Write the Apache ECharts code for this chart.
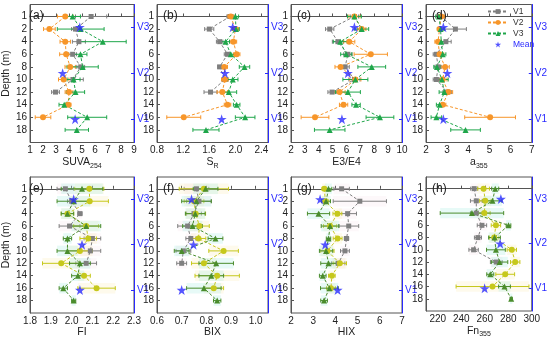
<!DOCTYPE html>
<html><head><meta charset="utf-8">
<script src="https://cdn.jsdelivr.net/npm/echarts@6/dist/echarts.min.js"></script>
<style>html,body{margin:0;padding:0;background:#fff}#c{width:550px;height:339px}</style>
</head><body><div id="c"></div>
<script>
// ---- categories / labels ----
const depthLabels = ['1','2','4','6','8','10','12','14','16','18'];
const meanPos = [0.85, 4.5, 8.15];
const siteLabels = ['V3','V2','V1'];

// ---- tick labels ----
const ticksA = [1,2,3,4,5,6,7,8,9];
const ticksB = [0.8,1.2,1.6,2.0,2.4];
const ticksC = [2,3,4,5,6,7,8,9,10];
const ticksD = [2,3,4,5,6,7];
const ticksE = [1.8,1.9,2.0,2.1,2.2,2.3];
const ticksF = [0.6,0.7,0.8,0.9,1.0];
const ticksG = [2,3,4,5,6,7];
const ticksH = [220,240,260,280,300];

// ---- (a) SUVA254 ----
const suvaV1 = [5.7, 4.5, 4.76, 4.28, 4.9, 4.3, 2.96];
const suvaV1Err = [1.2, 0.3, 0.5, 0.3, 0.3, 0.8, 0.3];
const suvaV2 = [3.71, 2.49, 3.71, 3.78, 4.09, 3.59, 4.0, 3.95, 2.0];
const suvaV2Err = [0.6, 0.45, 0.4, 0.5, 0.4, 0.4, 0.3, 0.2, 0.6];
const suvaV3 = [4.28, 4.9, 6.6, 4.88, 5.05, 4.35, 4.5, 3.63, 5.4, 4.6];
const suvaV3Err = [0.6, 1.8, 1.8, 0.5, 1.2, 0.5, 0.7, 0.4, 1.5, 0.9];
const suvaMean = [4.83, 3.51, 4.47];
// ---- (b) SR ----
const srV1 = [1.92, 1.60, 1.76, 1.88, 1.76, 1.84, 1.62];
const srV1Err = [0.05, 0.07, 0.05, 0.05, 0.03, 0.05, 0.1];
const srV2 = [1.93, 2.0, 1.97, 2.02, 1.83, 1.84, 1.80, 1.88, 1.21];
const srV2Err = [0.05, 0.05, 0.05, 0.05, 0.05, 0.05, 0.08, 0.05, 0.26];
const srV3 = [2.0, 2.01, 1.85, 1.93, 2.14, 1.96, 1.9, 2.02, 2.15, 1.55];
const srV3Err = [0.05, 0.05, 0.06, 0.07, 0.08, 0.08, 0.12, 0.05, 0.15, 0.2];
const srMean = [1.96, 1.84, 1.79];
// ---- (c) E3/E4 ----
const e34V1 = [6.57, 4.79, 5.38, 6.1, 5.9, 6.57, 4.96];
const e34V1Err = [0.3, 0.3, 0.4, 0.3, 0.3, 0.4, 0.3];
const e34V2 = [6.57, 7.1, 6.2, 7.75, 5.57, 6.64, 5.5, 5.79, 3.73];
const e34V2Err = [0.4, 0.3, 0.4, 1.2, 0.4, 0.4, 0.4, 0.3, 1.0];
const e34V3 = [6.57, 7.1, 5.55, 5.98, 7.82, 6.64, 6.1, 6.69, 8.41, 4.79];
const e34V3Err = [0.5, 0.5, 0.5, 0.4, 1.0, 0.9, 0.9, 0.3, 1.0, 1.1];
const e34Mean = [6.57, 6.1, 5.67];
// ---- (d) a355 ----
const a355V1 = [2.7, 3.39, 2.94, 2.49, 2.57, 2.49, 3.0];
const a355V1Err = [0.1, 0.52, 0.25, 0.15, 0.15, 0.15, 0.2];
const a355V2 = [2.72, 2.64, 2.57, 2.64, 2.9, 2.79, 3.06, 2.79, 5.03];
const a355V2Err = [0.15, 0.1, 0.15, 0.2, 0.2, 0.2, 0.2, 0.15, 1.2];
const a355V3 = [2.61, 2.69, 2.72, 2.79, 2.52, 2.75, 2.87, 2.64, 2.49, 3.87];
const a355V3Err = [0.15, 0.15, 0.15, 0.15, 0.15, 0.3, 0.25, 0.15, 0.25, 0.7];
const a355Mean = [2.82, 3.01, 2.82];
// ---- (e) FI ----
const fiV1 = [1.97, 2.0, 2.04, 1.99, 2.10, 2.09, 2.07];
const fiV1Err = [0.04, 0.02, 0.01, 0.05, 0.04, 0.05, 0.05];
const fiV2 = [2.085, 2.087, 1.98, 2.07, 2.08, 2.04, 1.95, 2.06, 2.12];
const fiV2Err = [0.07, 0.09, 0.03, 0.06, 0.04, 0.06, 0.09, 0.03, 0.09];
const fiV3 = [2.05, 2.01, 1.98, 2.07, 1.98, 1.98, 2.04, 2.03, 1.96, 2.01];
const fiV3Err = [0.1, 0.08, 0.03, 0.07, 0.02, 0.05, 0.05, 0.03, 0.02, 0.01];
const fiMean = [2.01, 2.05, 2.04];
// ---- (f) BIX ----
const bixV1 = [0.76, 0.77, 0.75, 0.724, 0.737, 0.707, 0.70];
const bixV1Err = [0.05, 0.05, 0.03, 0.04, 0.02, 0.03, 0.02];
const bixV2 = [0.79, 0.75, 0.757, 0.772, 0.768, 0.87, 0.79, 0.844, 0.83];
const bixV2Err = [0.1, 0.04, 0.04, 0.04, 0.03, 0.06, 0.05, 0.09, 0.04];
const bixV3 = [0.797, 0.76, 0.755, 0.744, 0.837, 0.70, 0.84, 0.82, 0.79, 0.844];
const bixV3Err = [0.05, 0.06, 0.04, 0.04, 0.03, 0.03, 0.07, 0.05, 0.07, 0.015];
const bixMean = [0.74, 0.748, 0.70];
// ---- (g) HIX ----
const hixV1 = [4.28, 5.1, 4.55, 4.6, 4.5, 4.43, 4.13];
const hixV1Err = [0.35, 1.2, 0.4, 0.45, 0.1, 0.2, 0.3];
const hixV2 = [3.5, 3.55, 4.09, 3.76, 4.1, 3.64, 4.2, 3.84, 3.8];
const hixV2Err = [0.1, 0.15, 0.2, 0.3, 0.2, 0.3, 0.3, 0.15, 0.2];
const hixV3 = [3.69, 3.58, 3.24, 3.76, 3.69, 3.58, 3.69, 3.43, 3.73, 3.49];
const hixV3Err = [0.15, 0.2, 0.5, 0.4, 0.1, 0.3, 0.35, 0.15, 0.4, 0.15];
const hixMean = [3.31, 3.54, 4.1];
// ---- (h) Fn355 ----
const fnV1 = [251, 252.8, 252.8, 257.6, 254.2, 250.5, 269.8];
const fnV1Err = [3, 5, 5, 4, 3, 4, 5];
const fnV2 = [259, 260.4, 259.6, 269.5, 268, 283, 285.9, 277.4, 266.6];
const fnV2Err = [5, 5, 5, 4, 4, 4, 4, 8, 31];
const fnV3 = [268.9, 266.6, 249.1, 280.2, 268.3, 269.5, 272.6, 264.7, 276.8, 282.5];
const fnV3Err = [3, 8, 27, 2, 5, 8, 7, 3, 5, 1];
const fnMean = [273.7, 273.1, 259.9];

// ---- panel definitions (styles / layout) ----
const FONT = 'Liberation Sans, Arial, sans-serif';
const topColors = ['#7f7f7f', '#f7962a', '#1fa64a'];
const botColors = ['#808080', '#c6c81c', '#4a8c2c'];
const shadeColors = ['rgba(240,190,205,0.10)', 'rgba(250,230,150,0.18)', 'rgba(160,235,225,0.25)'];
const BLUE = '#2a2aff';

const panels = [
  {tag:'(a)', name:'SUVA{s|254}', min:1, max:9, ticks:ticksA, dec:0, v:[suvaV1,suvaV2,suvaV3], e:[suvaV1Err,suvaV2Err,suvaV3Err], m:suvaMean},
  {tag:'(b)', name:'S{s|R}', min:0.8, max:2.5, ticks:ticksB, dec:1, v:[srV1,srV2,srV3], e:[srV1Err,srV2Err,srV3Err], m:srMean},
  {tag:'(c)', name:'E3/E4', min:2, max:10, ticks:ticksC, dec:0, v:[e34V1,e34V2,e34V3], e:[e34V1Err,e34V2Err,e34V3Err], m:e34Mean},
  {tag:'(d)', name:'a{s|355}', min:2, max:7, ticks:ticksD, dec:0, v:[a355V1,a355V2,a355V3], e:[a355V1Err,a355V2Err,a355V3Err], m:a355Mean},
  {tag:'(e)', name:'FI', min:1.8, max:2.3, ticks:ticksE, dec:1, v:[fiV1,fiV2,fiV3], e:[fiV1Err,fiV2Err,fiV3Err], m:fiMean},
  {tag:'(f)', name:'BIX', min:0.6, max:1.05, ticks:ticksF, dec:1, v:[bixV1,bixV2,bixV3], e:[bixV1Err,bixV2Err,bixV3Err], m:bixMean},
  {tag:'(g)', name:'HIX', min:2, max:7, ticks:ticksG, dec:0, v:[hixV1,hixV2,hixV3], e:[hixV1Err,hixV2Err,hixV3Err], m:hixMean},
  {tag:'(h)', name:'Fn{s|355}', min:210, max:300, ticks:ticksH, dec:0, v:[fnV1,fnV2,fnV3], e:[fnV1Err,fnV2Err,fnV3Err], m:fnMean}
];
const lefts = [23, 157, 291, 426];
const PW = 111;
const YMIN = -0.95, YMAX = 10;
const symbols = ['rect', 'circle', 'triangle'];
const names = ['V1', 'V2', 'V3'];
const STAR = 'path://M50,0 L61.2,34.5 L97.6,34.5 L68.2,55.9 L79.4,90.5 L50,69.1 L20.6,90.5 L31.8,55.9 L2.4,34.5 L38.8,34.5 Z';

function errRender(color, shade) {
  return function (params, api) {
    const x = api.value(0), e = api.value(1), y = api.value(2);
    const p1 = api.coord([x - e, y]), p2 = api.coord([x + e, y]);
    const cap = 2;
    const ch = [];
    if (shade) {
      const h = api.size([0, 0.85])[1];
      ch.push({type:'rect', shape:{x:p1[0], y:p1[1]-h/2, width:p2[0]-p1[0], height:h}, style:{fill:shade}});
    }
    ch.push({type:'line', shape:{x1:p1[0], y1:p1[1], x2:p2[0], y2:p2[1]}, style:{stroke:color, lineWidth:1}});
    ch.push({type:'line', shape:{x1:p1[0], y1:p1[1]-cap, x2:p1[0], y2:p1[1]+cap}, style:{stroke:color, lineWidth:1}});
    ch.push({type:'line', shape:{x1:p2[0], y1:p2[1]-cap, x2:p2[0], y2:p2[1]+cap}, style:{stroke:color, lineWidth:1}});
    return {type:'group', children:ch};
  };
}

const grids = [], xAxes = [], yAxes = [], series = [], titles = [];
panels.forEach(function (p, i) {
  const row = i < 4 ? 0 : 1;
  const col = i % 4;
  const top = row === 0 ? 4.5 : 177;
  const height = row === 0 ? 138 : 136;
  grids.push({left: lefts[col], top: top, width: PW, height: height, show: true, borderColor: '#555', borderWidth: 1, backgroundColor: 'transparent'});
  titles.push({text: p.tag, left: lefts[col] + 1, top: top + 0.5, textStyle: {fontFamily: FONT, fontSize: 12, fontWeight: 'normal', color: '#222'}});
  xAxes.push({
    type: 'value', gridIndex: i, min: p.min, max: p.max,
    name: p.name, nameLocation: 'middle', nameGap: 13,
    nameTextStyle: {fontFamily: FONT, fontSize: 10.5, color: '#222', rich: {s: {fontFamily: FONT, fontSize: 7, color: '#222', padding: [7, 0, 0, 0]}}},
    splitLine: {show: false},
    axisLine: {lineStyle: {color: '#555'}},
    axisTick: {inside: true, length: 3, lineStyle: {color: '#555'}, customValues: p.ticks},
    axisLabel: {fontFamily: FONT, fontSize: 10, color: '#222', margin: 3, customValues: p.ticks,
      formatter: function (v) { return v.toFixed(p.dec); }}
  });
  yAxes.push({
    type: 'value', gridIndex: i, inverse: true, min: YMIN, max: YMAX,
    name: col === 0 ? 'Depth (m)' : '', nameLocation: 'middle', nameGap: 13, nameRotate: 90,
    nameTextStyle: {fontFamily: FONT, fontSize: 10.5, color: '#222'},
    splitLine: {show: false},
    axisLine: {lineStyle: {color: '#555'}},
    axisTick: {inside: true, length: 3, lineStyle: {color: '#555'}, customValues: [0,1,2,3,4,5,6,7,8,9]},
    axisLabel: {fontFamily: FONT, fontSize: 10, color: '#222', margin: 3, customValues: [0,1,2,3,4,5,6,7,8,9],
      formatter: function (v) { return depthLabels[Math.round(v)]; }}
  });
  yAxes.push({
    type: 'value', gridIndex: i, inverse: true, min: YMIN, max: YMAX, position: 'right',
    splitLine: {show: false},
    axisLine: {show: true, lineStyle: {color: BLUE}},
    axisTick: {inside: true, length: 3, lineStyle: {color: BLUE}, customValues: meanPos},
    axisLabel: {fontFamily: FONT, fontSize: 10, color: BLUE, margin: 3, customValues: meanPos,
      formatter: function (v) {
        for (let k = 0; k < meanPos.length; k++) if (Math.abs(meanPos[k] - v) < 0.01) return siteLabels[k];
        return '';
      }}
  });
  const colors = row === 0 ? topColors : botColors;
  for (let s = 0; s < 3; s++) {
    const vals = p.v[s], errs = p.e[s];
    series.push({
      type: 'custom', name: names[s] + ' err', xAxisIndex: i, yAxisIndex: 2 * i, z: 1, silent: true,
      renderItem: errRender(colors[s], row === 1 ? shadeColors[s] : null),
      data: vals.map(function (v, k) { return [v, errs[k], k]; }),
      encode: {x: [0], y: [2]}, clip: false
    });
  }
  for (let s = 0; s < 3; s++) {
    const vals = p.v[s];
    series.push({
      type: 'line', name: names[s], xAxisIndex: i, yAxisIndex: 2 * i, z: 3,
      data: vals.map(function (v, k) { return [v, k]; }),
      symbol: symbols[s], symbolSize: s === 0 ? 5 : 6, showAllSymbol: true,
      lineStyle: {color: colors[s], width: 1, type: [3, 2]},
      itemStyle: {color: colors[s]},
      animation: false
    });
  }
  series.push({
    type: 'scatter', name: 'Mean', xAxisIndex: i, yAxisIndex: 2 * i, z: 4,
    symbol: STAR, symbolSize: 10, itemStyle: {color: BLUE},
    data: p.m.map(function (v, k) { return [v, meanPos[k]]; })
  });
});

const chart = echarts.init(document.getElementById('c'), null, {renderer: 'canvas'});
chart.setOption({
  animation: false,
  backgroundColor: '#fff',
  textStyle: {fontFamily: FONT},
  title: titles,
  grid: grids,
  xAxis: xAxes,
  yAxis: yAxes,
  legend: {
    orient: 'vertical', left: 482, top: 2, itemWidth: 20, itemHeight: 6, itemGap: 2,
    textStyle: {fontFamily: FONT, fontSize: 8.5, color: '#333'},
    data: [
      {name: 'V1'}, {name: 'V2'}, {name: 'V3'},
      {name: 'Mean', textStyle: {color: BLUE}}
    ]
  },
  series: series
});
</script>
</body></html>
